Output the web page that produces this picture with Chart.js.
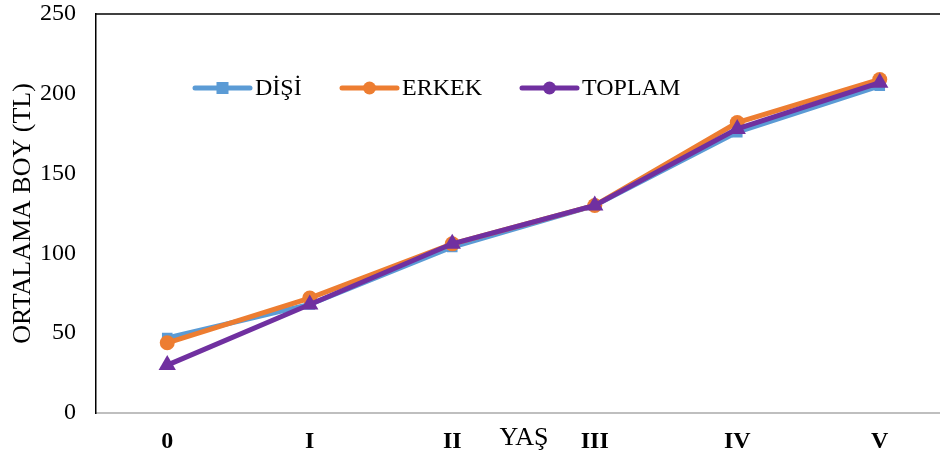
<!DOCTYPE html>
<html>
<head>
<meta charset="utf-8">
<script src="https://cdn.jsdelivr.net/npm/chart.js@4/dist/chart.umd.min.js"></script>
<style>
  html, body { margin:0; padding:0; background:#fff; overflow:hidden; width:940px; height:459px; }
  #wrap { position:relative; width:961px; height:459px; }
</style>
</head>
<body>
<div id="wrap"><canvas id="c" width="961" height="459"></canvas></div>
<script>
const categories = ['0', 'I', 'II', 'III', 'IV', 'V'];
const disi   = [47, 68, 104, 130, 176, 205];
const erkek  = [44, 72, 106, 130, 182, 209];
const toplam = [30, 68, 106, 130, 178, 207];
const seriesNames = ['DİŞİ', 'ERKEK', 'TOPLAM'];
const yTicks = [0, 50, 100, 150, 200, 250];
const yTitle = 'ORTALAMA BOY (TL)';
const xTitle = 'YAŞ';

const SERIF = '"Liberation Serif", "Times New Roman", Times, serif';
const colors = ['#5B9BD5', '#ED7D31', '#7030A0'];

const decor = {
  id: 'decor',
  afterDraw(chart) {
    const ctx = chart.ctx;
    const a = chart.chartArea;
    ctx.save();
    // top border
    ctx.strokeStyle = '#000';
    ctx.lineWidth = 1.5;
    ctx.beginPath();
    ctx.moveTo(a.left, a.top);
    ctx.lineTo(a.right, a.top);
    ctx.stroke();
    // x title
    ctx.fillStyle = '#000';
    ctx.font = '26px ' + SERIF;
    ctx.textAlign = 'center';
    ctx.textBaseline = 'middle';
    ctx.fillText(xTitle, 524, 438);
    // legend
    const items = [
      {x: 195, style: 'rect'},
      {x: 342, style: 'circle'},
      {x: 522, style: 'circle'}
    ];
    const ly = 88;
    items.forEach((it, i) => {
      ctx.strokeStyle = colors[i];
      ctx.fillStyle = colors[i];
      ctx.lineWidth = 5;
      ctx.lineCap = 'round';
      ctx.beginPath();
      ctx.moveTo(it.x, ly);
      ctx.lineTo(it.x + 55, ly);
      ctx.stroke();
      const cx = it.x + 27.5;
      if (it.style === 'rect') {
        ctx.fillRect(cx - 6, ly - 6, 12, 12);
      } else {
        ctx.beginPath();
        ctx.arc(cx, ly, 6.5, 0, Math.PI * 2);
        ctx.fill();
      }
      ctx.fillStyle = '#000';
      ctx.textAlign = 'left';
      ctx.font = '24px ' + SERIF;
      ctx.fillText(seriesNames[i], it.x + 60, ly + 1);
    });
    ctx.restore();
  }
};

new Chart(document.getElementById('c'), {
  type: 'line',
  data: {
    labels: categories,
    datasets: [
      { label: seriesNames[0], data: disi, borderColor: colors[0], backgroundColor: colors[0],
        borderWidth: 5, pointStyle: 'rect', pointRadius: 7.5, pointBorderWidth: 0, order: 3, tension: 0 },
      { label: seriesNames[1], data: erkek, borderColor: colors[1], backgroundColor: colors[1],
        borderWidth: 5, pointStyle: 'circle', pointRadius: 7.5, pointBorderWidth: 0, order: 2, tension: 0 },
      { label: seriesNames[2], data: toplam, borderColor: colors[2], backgroundColor: colors[2],
        borderWidth: 5, pointStyle: 'triangle', pointRadius: 10, pointBorderWidth: 0, order: 1, tension: 0 }
    ]
  },
  options: {
    responsive: false,
    animation: false,
    devicePixelRatio: 1,
    layout: { padding: { top: 14, right: 0, left: 0, bottom: 0 } },
    plugins: { legend: { display: false }, tooltip: { enabled: false } },
    scales: {
      x: {
        offset: true,
        grid: { display: false, drawTicks: false },
        border: { display: true, color: '#BFBFBF', width: 2 },
        ticks: { color: '#000', padding: 14, font: { family: SERIF, size: 24, weight: 'bold' }, maxRotation: 0 },
        afterFit(s) { s.height = 46; s.paddingLeft = 0; s.paddingRight = 0; }
      },
      y: {
        min: 0, max: 250,
        afterBuildTicks(s) { s.ticks = yTicks.map(v => ({ value: v })); },
        grid: { display: false, drawTicks: false },
        border: { display: true, color: '#000', width: 1.5 },
        ticks: { color: '#000', padding: 20, font: { family: SERIF, size: 24 } },
        title: { display: true, text: yTitle, color: '#000', font: { family: SERIF, size: 26 }, padding: { top: 8, bottom: 0 } },
        afterFit(s) { s.width = 96; s.paddingTop = 0; s.paddingBottom = 0; }
      }
    }
  },
  plugins: [decor]
});
</script>
</body>
</html>
